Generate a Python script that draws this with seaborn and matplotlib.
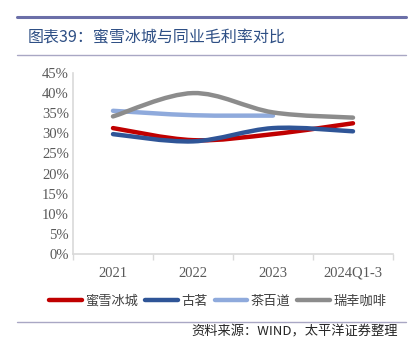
import numpy as np
import pandas as pd
import seaborn as sns
import matplotlib.pyplot as plt
from matplotlib.path import Path
from matplotlib.patches import PathPatch
from matplotlib.lines import Line2D

# data (gross margin, %)
periods = ["2021", "2022", "2023", "2024Q1-3"]
mixue = [31.3, 28.3, 29.8, 32.5]
guming = [29.8, 28.0, 31.3, 30.5]
chabaidao = [35.6, 34.5, 34.4]
luckin = [34.2, 40.0, 35.2, 33.9]

names = ["蜜雪冰城", "古茗", "茶百道", "瑞幸咖啡"]
colors = ["#C00000", "#2F5597", "#8FAADC", "#8C8C8C"]

sns.set_theme(style="white")
plt.rcParams['font.family'] = ['Noto Sans CJK SC', 'DejaVu Sans']

fig = plt.figure(figsize=(4.11, 3.56), dpi=100)
ax = fig.add_axes([0.1776, 0.2865, 0.7786, 0.5085])


def smooth_path(xs, ys):
    # Excel-style smoothed line: Catmull-Rom segments as cubic Bezier
    pts = list(zip(xs, ys))
    verts = [pts[0]]
    codes = [Path.MOVETO]
    n = len(pts)
    for i in range(n - 1):
        p0 = pts[i - 1] if i > 0 else pts[i]
        p1, p2 = pts[i], pts[i + 1]
        p3 = pts[i + 2] if i + 2 < n else pts[i + 1]
        c1 = (p1[0] + (p2[0] - p0[0]) / 6, p1[1] + (p2[1] - p0[1]) / 6)
        c2 = (p2[0] - (p3[0] - p1[0]) / 6, p2[1] - (p3[1] - p1[1]) / 6)
        verts += [c1, c2, p2]
        codes += [Path.CURVE4] * 3
    return Path(verts, codes)


series = [mixue, guming, chabaidao, luckin]
for vals, col in zip(series, colors):
    xs = np.arange(len(vals))
    ax.add_patch(PathPatch(smooth_path(xs, vals), facecolor="none",
                           edgecolor=col, lw=3.2, capstyle="round", zorder=3))

ax.set_xlim(-0.5, 3.5)
ax.set_ylim(0, 45)
ax.set_yticks(np.arange(0, 46, 5))
ax.set_yticklabels([f"{v}%" for v in range(0, 46, 5)])
ax.set_xticks(range(len(periods)))
ax.set_xticklabels(periods)
ax.set_xticks(np.arange(-0.5, 3.6, 1), minor=True)
ax.tick_params(axis="x", which="major", length=0, pad=9)
ax.tick_params(axis="x", which="minor", length=4, color="#D9D9D9", width=1, bottom=True)
ax.tick_params(axis="y", length=0, pad=3)
for lab in ax.get_xticklabels() + ax.get_yticklabels():
    lab.set_fontfamily("Liberation Serif")
    lab.set_fontsize(10.5)
    lab.set_color("#595959")
for s in ["top", "right"]:
    ax.spines[s].set_visible(False)
for s in ["left", "bottom"]:
    ax.spines[s].set_color("#D9D9D9")
    ax.spines[s].set_linewidth(1.2)

handles = [Line2D([], [], color=c, lw=3.2) for c in colors]
fig.legend(handles, names, loc="center", bbox_to_anchor=(0.53, 0.154), ncol=4,
           frameon=False, fontsize=9.5, handlelength=2.5, handletextpad=0.25,
           columnspacing=0.5, labelcolor="#404040")

# header / footer decoration
fig.add_artist(Line2D([0.041, 0.988], [0.951, 0.951], color="#6B6FA8", lw=2.2))
fig.add_artist(Line2D([0.041, 0.988], [0.846, 0.846], color="#A9A7C4", lw=1.0))
fig.add_artist(Line2D([0.041, 0.988], [0.096, 0.096], color="#A9A7C4", lw=1.0))
fig.text(0.068, 0.893, "图表39：蜜雪冰城与同业毛利率对比", fontsize=11.5,
         color="#2E4F85", va="center", ha="left")
fig.text(0.969, 0.068, "资料来源：WIND，太平洋证券整理", fontsize=9.5,
         color="#262626", va="center", ha="right", style="italic")

fig.savefig("out.png", dpi=100)
